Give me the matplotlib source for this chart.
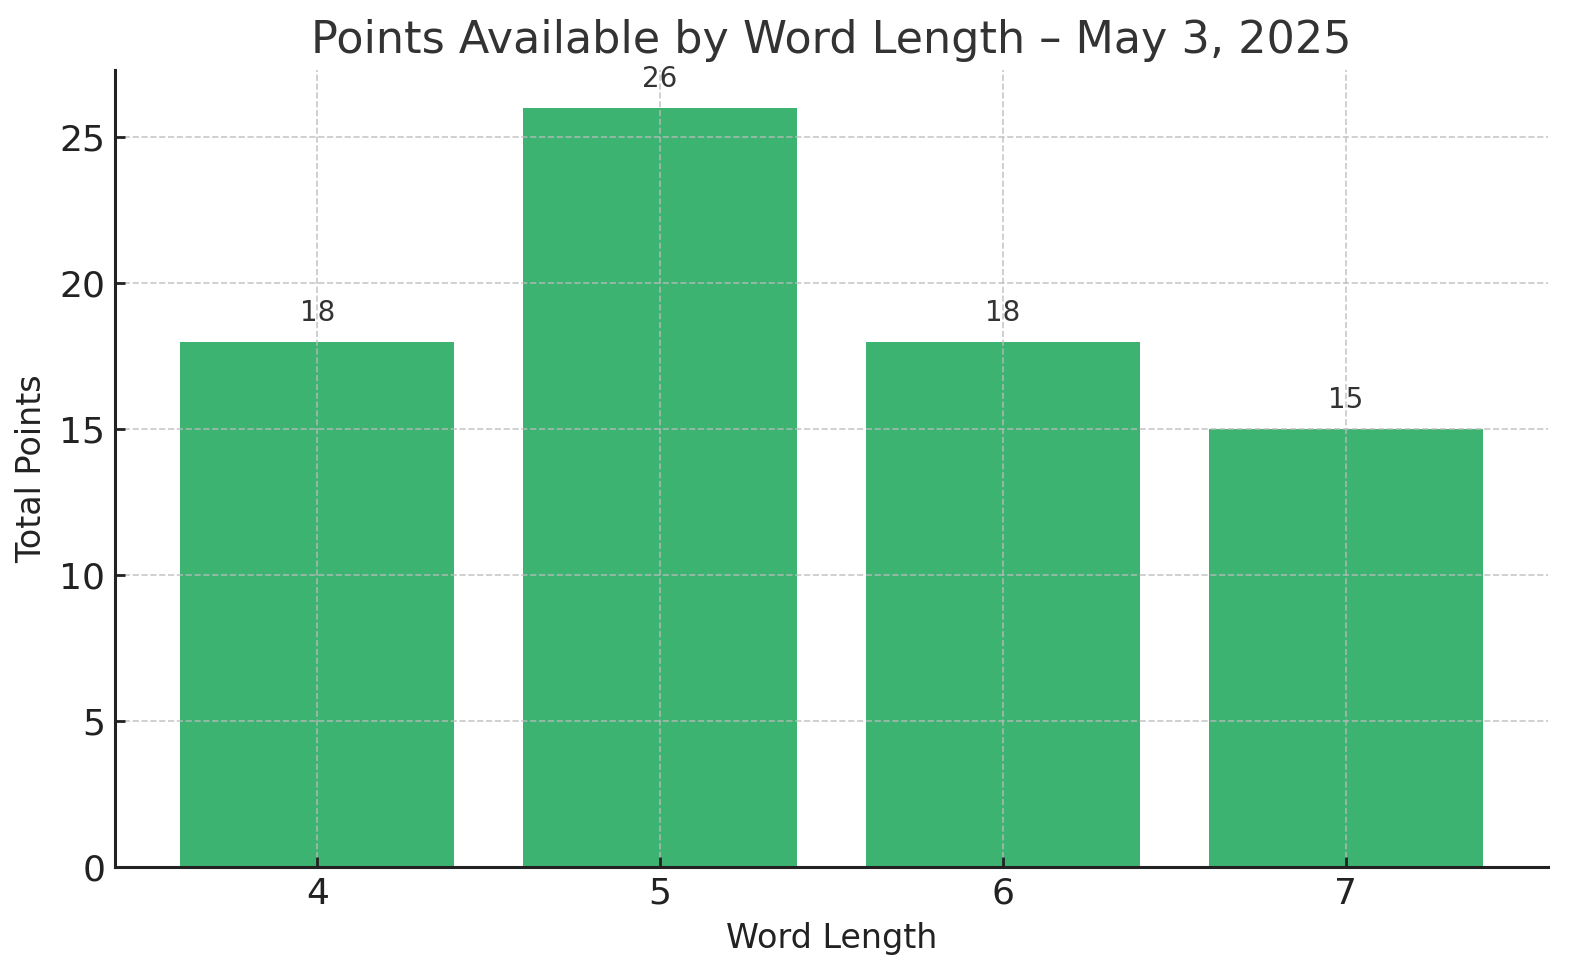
import matplotlib
matplotlib.use("Agg")
import matplotlib.pyplot as plt

word_lengths = [4, 5, 6, 7]
points = [18, 26, 18, 15]

fig, ax = plt.subplots(figsize=(7.9, 4.9), dpi=200)
bars = ax.bar(word_lengths, points, color="#3CB371", width=0.8)
for x, v in zip(word_lengths, points):
    ax.text(x, v + 0.5, str(v), ha="center", va="bottom", fontsize=10, color="#333333")

ax.set_title("Points Available by Word Length – May 3, 2025", fontsize=16, color="#333333")
ax.set_xlabel("Word Length", fontsize=12, color="#222222")
ax.set_ylabel("Total Points", fontsize=12, color="#222222")
ax.set_xticks(word_lengths)
ax.tick_params(labelsize=13, colors="#222222", width=1.0, length=3.5, direction="in")
ax.set_ylim(0, 27.3)
ax.set_axisbelow(False)
ax.grid(True, linestyle="--", color="#bbbbbb", alpha=0.8, linewidth=0.6)
for s in ["top", "right"]:
    ax.spines[s].set_visible(False)
for s in ["left", "bottom"]:
    ax.spines[s].set_linewidth(1.1)
    ax.spines[s].set_color("#222222")
    ax.spines[s].set_zorder(5)
fig.subplots_adjust(left=115/1580, right=1548/1580, bottom=1-867/980, top=1-70/980)
fig.savefig("out.png", dpi=200)
